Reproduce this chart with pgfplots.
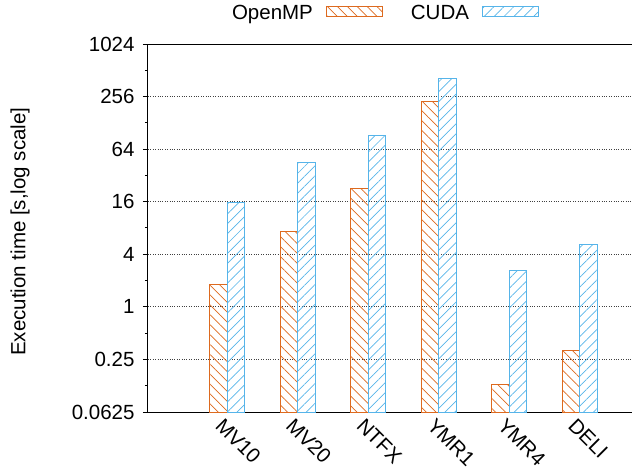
\documentclass[border=0pt]{standalone}
\usepackage{pgfplots}
\pgfplotsset{compat=1.18}
\usetikzlibrary{patterns.meta}
\usepackage{fontspec}
\setmainfont{Liberation Sans}
\definecolor{ompc}{HTML}{DD6A1F}
\definecolor{cudac}{HTML}{56B4E9}
\begin{document}
\begin{tikzpicture}[font=\fontsize{20.5}{24}\selectfont]
\path[use as bounding box] (-148pt,-59pt) rectangle (487pt,412pt);
\begin{axis}[
  at={(0pt,0pt)}, anchor=south west,
  scale only axis, width=484pt, height=368pt,
  font=\fontsize{20.5}{24}\selectfont,
  ymode=log, log basis y=2, log origin=infty,
  ymin=0.0625, ymax=1024,
  xmin=-1.12, xmax=5.74,
  ybar=0pt, bar width=17.5pt,
  axis x line=bottom, axis y line=left,
  axis line style={-, line width=1pt, black},
  tick align=outside,
  ytick={0.0625,0.25,1,4,16,64,256,1024},
  yticklabels={0.0625,0.25,1,4,16,64,256,1024},
  minor tick num=0,
  extra y ticks={0.125,0.5,2,8,32,128,512},
  extra y tick labels={},
  extra y tick style={major tick length=3pt, ymajorgrids=false},
  major tick length=5pt,
  every tick/.style={black, line width=1pt},
  xtick={0,1,2,3,4,5},
  xticklabels={MV10,MV20,NTFX,YMR1,YMR4,DELI},
  xtick style={draw=none},
  xticklabel style={rotate=-45, anchor=west, inner sep=0pt, yshift=-9pt, xshift=-2pt},
  yticklabel style={xshift=-5pt},
  /pgf/number format/assume math mode=true,
  ymajorgrids,
  major grid style={dotted, black!75, line width=0.8pt},
  ylabel={Execution time [s,log scale]},
  ylabel style={at={(axis description cs:-0.2645,0.49)}, anchor=center, rotate=0},
  legend columns=2,
  legend plot pos=right,
  legend style={draw=none, fill=none, at={(0.4907,1)}, anchor=center, yshift=31pt,
    nodes={inner sep=0pt},
    /tikz/every odd column/.append style={column sep=13pt},
    /tikz/every even column/.append style={column sep=28pt}},
  legend image code/.code={\draw[#1] (0pt,-4pt) rectangle (56pt,6pt);},
]
\addplot[draw=ompc, line width=1pt, pattern={Lines[angle=-45,distance=7pt,line width=0.7pt]}, pattern color=ompc]
  coordinates {(0,1.82) (1,7.2) (2,22.9) (3,226) (4,0.128) (5,0.32)};
\addlegendentry{OpenMP}
\addplot[draw=cudac, line width=1pt, pattern={Lines[angle=45,distance=7pt,line width=0.7pt]}, pattern color=cudac]
  coordinates {(0,15.6) (1,45) (2,91) (3,410) (4,2.6) (5,5.2)};
\addlegendentry{CUDA}
\draw[line width=1pt, black] (rel axis cs:0,1) -- (rel axis cs:1,1);
\end{axis}
\end{tikzpicture}
\end{document}
